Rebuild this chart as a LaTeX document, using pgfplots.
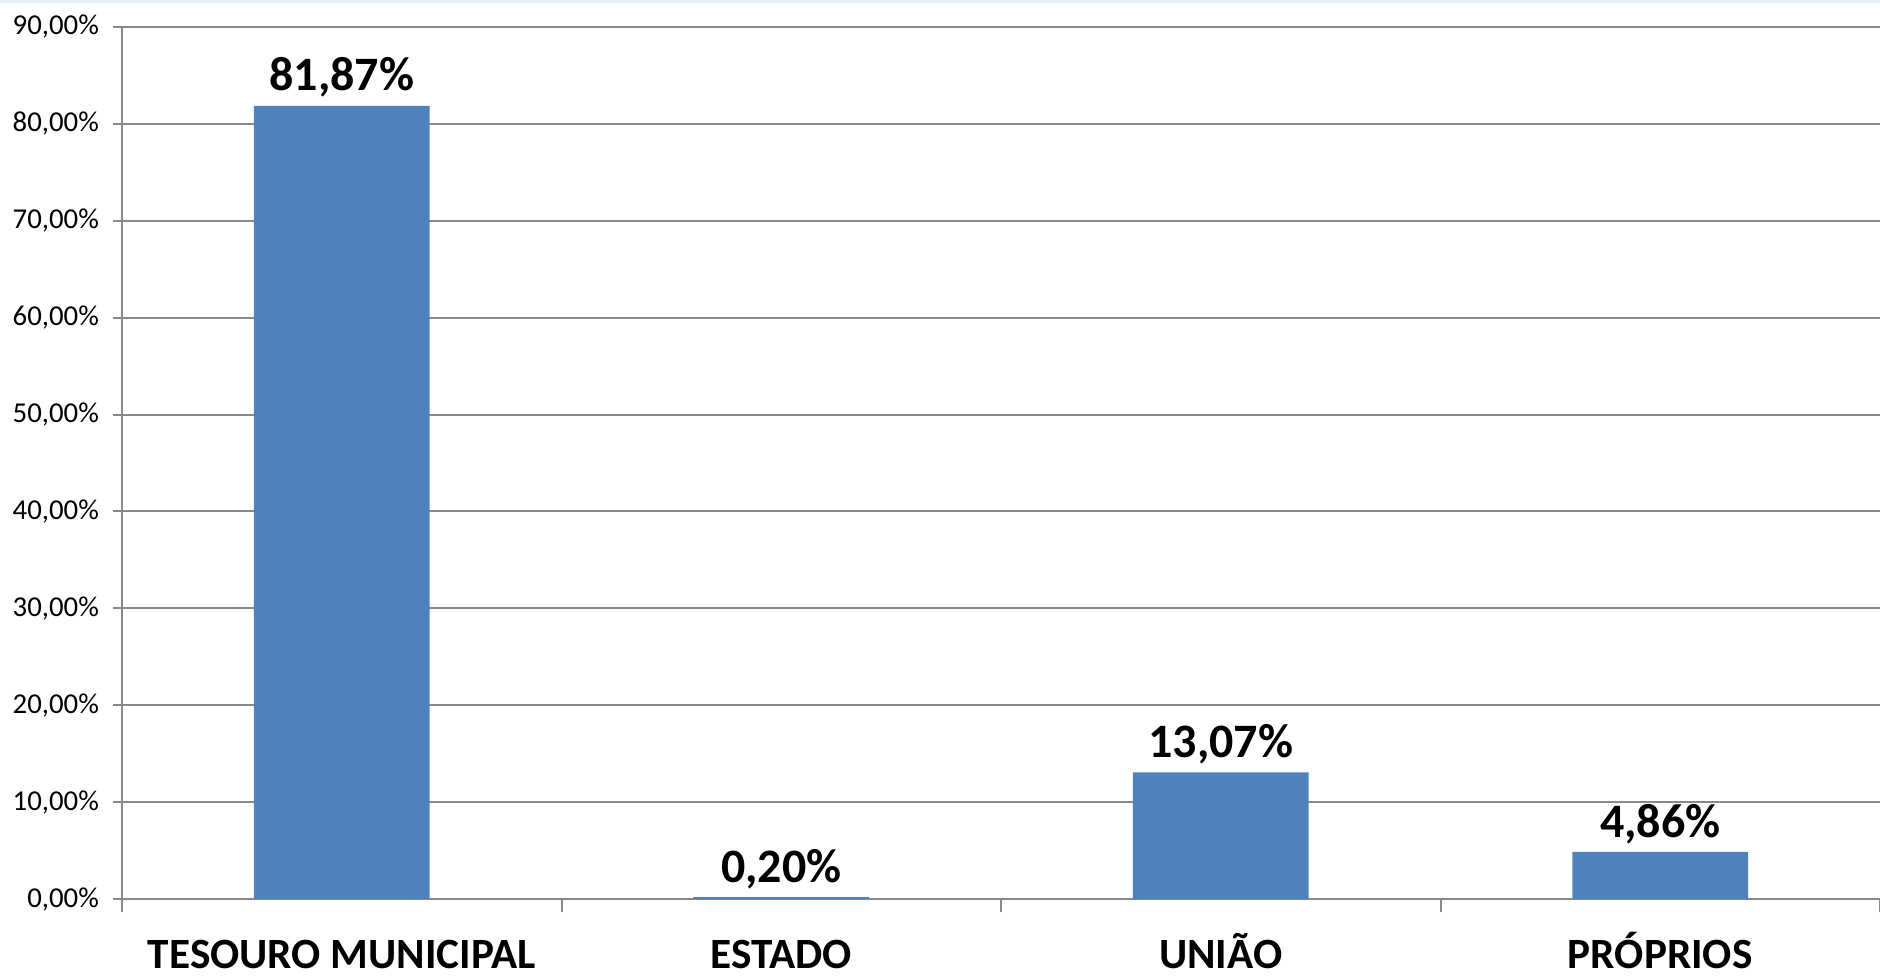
\documentclass[border=0pt]{standalone}
\usepackage{fontspec}
\setmainfont{Carlito}
\usepackage{pgfplots}
\pgfplotsset{compat=1.18}
\definecolor{barblue}{RGB}{79,129,189}
\definecolor{gridgray}{RGB}{137,137,137}
\definecolor{topstrip}{RGB}{234,239,246}
\begin{document}
\begin{tikzpicture}[x=0.25pt,y=0.25pt]
\path[use as bounding box] (-122,-77) rectangle (1758,899);
\fill[topstrip] (-122,896) rectangle (1758,899);
\begin{axis}[
  at={(0,0)}, anchor=south west,
  scale only axis,
  width=439.5pt, height=218pt,
  /pgf/number format/assume math mode=true,
  ymin=0, ymax=90,
  xmin=-0.5, xmax=3.5,
  ytick={0,10,...,90},
  xtick={0,1,2,3},
  xticklabels={TESOURO MUNICIPAL, ESTADO, UNIÃO, PRÓPRIOS},
  x tick label style={font=\fontsize{10.8}{13}\selectfont\bfseries, anchor=base, yshift=-15.2pt},
  y tick label style={font=\fontsize{7.2}{8}\selectfont, xshift=0pt},
  yticklabel={\pgfmathprintnumber[fixed,fixed zerofill,precision=2,use comma]{\tick}\%},
  axis x line*=bottom, axis y line*=left,
  axis line style={gridgray, line width=0.5pt},
  tick align=outside,
  major tick length=2.25pt,
  ymajorgrids, grid style={gridgray, line width=0.5pt},
  ytick style={gridgray, line width=0.5pt},
  xtick style={draw=none},
  extra x ticks={-0.5,0.5,1.5,2.5,3.5},
  extra x tick labels={},
  extra x tick style={major tick length=3.25pt, xtick style={draw=gridgray, line width=0.5pt}},
  clip=false,
]
\addplot[ybar, bar width=0.4, fill=barblue, draw=none,
  nodes near coords={\pgfmathprintnumber[fixed,fixed zerofill,precision=2,use comma]{\pgfplotspointmeta}\%},
  nodes near coords style={font=\fontsize{12}{13}\selectfont\bfseries, anchor=south, inner sep=0pt, text depth=0pt, yshift=3.5pt, black},
] coordinates {(0,81.87) (1,0.20) (2,13.07) (3,4.86)};
\end{axis}
\end{tikzpicture}
\end{document}
